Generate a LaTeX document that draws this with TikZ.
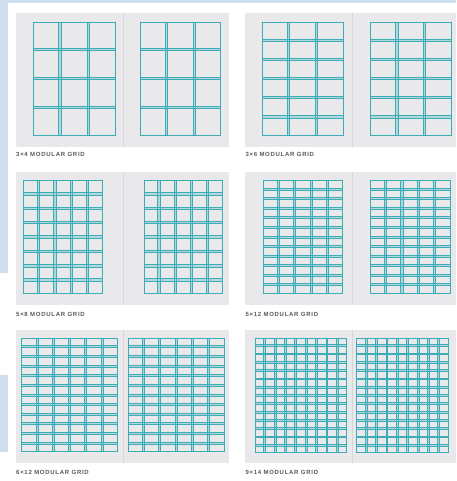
\documentclass[tikz,border=0pt]{standalone}
\usepackage{fontspec}
\newfontfamily\labelfont[LetterSpace=12]{Liberation Sans}
\definecolor{bgblue}{RGB}{207,222,238}
\definecolor{panelgray}{RGB}{233,233,235}
\definecolor{divgray}{RGB}{214,215,218}
\definecolor{gridteal}{RGB}{62,172,180}
\definecolor{gutterteal}{RGB}{176,216,220}
\definecolor{labelgray}{RGB}{88,88,92}
\tikzset{
  panelbox/.style={fill=panelgray},
  pagediv/.style={draw=divgray,line width=0.8pt},
  gridline/.style={draw=gridteal,line width=0.9pt},
  gutterbox/.style={fill=gutterteal},
  gridlabel/.style={anchor=west,inner sep=0pt,text=labelgray,font=\labelfont\bfseries\fontsize{6}{6.5}\selectfont}
}
% x0 y0 x1 y1 ncols nrows gutter
\newcommand\modgrid[7]{%
  \pgfmathsetmacro\cwid{(#3-#1-(#5-1)*#7)/#5}%
  \pgfmathsetmacro\rhgt{(#4-#2-(#6-1)*#7)/#6}%
  \foreach \ci in {1,...,\numexpr#5-1\relax}{%
    \pgfmathsetmacro\xa{#1+\ci*\cwid+(\ci-1)*#7}%
    \fill[gutterbox] (\xa,#2) rectangle ++(#7,#4-#2);
  }%
  \foreach \rj in {1,...,\numexpr#6-1\relax}{%
    \pgfmathsetmacro\ya{#2+\rj*\rhgt+(\rj-1)*#7}%
    \fill[gutterbox] (#1,\ya) rectangle ++(#3-#1,#7);
  }%
  \foreach \ci in {1,...,\numexpr#5-1\relax}{%
    \pgfmathsetmacro\xa{#1+\ci*\cwid+(\ci-1)*#7}%
    \draw[gridline] (\xa,#2) -- (\xa,#4) (\xa+#7,#2) -- (\xa+#7,#4);
  }%
  \foreach \rj in {1,...,\numexpr#6-1\relax}{%
    \pgfmathsetmacro\ya{#2+\rj*\rhgt+(\rj-1)*#7}%
    \draw[gridline] (#1,\ya) -- (#3,\ya) (#1,\ya+#7) -- (#3,\ya+#7);
  }%
  \draw[gridline] (#1,#2) rectangle (#3,#4);
}
% panel: xleft ytop ybottom
\newcommand\spread[3]{%
  \fill[panelbox] (#1,#2) rectangle ++(213,#3-#2);
  \draw[pagediv] (#1+107,#2) -- (#1+107,#3);
}
\begin{document}
\begin{tikzpicture}[x=1pt,y=-1pt]
\path[use as bounding box,clip] (0,0) rectangle (456,481);
\fill[white] (0,0) rectangle (456,481);
% background strips
\fill[bgblue] (0,0) rectangle (456,3.5);
\fill[bgblue] (0,0) rectangle (7.5,273);
\fill[bgblue] (0,375) rectangle (7.5,452);
% row 1
\spread{16}{13}{147}
\spread{245}{13}{147}
\modgrid{33.3}{22}{115}{135}{3}{4}{2.4}
\modgrid{140}{22}{220.7}{135}{3}{4}{2.4}
\modgrid{262}{22.3}{343.7}{135}{3}{6}{2.1}
\modgrid{370.3}{22.3}{451.3}{135}{3}{6}{2.1}
\node[gridlabel] (l1) at (16,154.3) {3×4 MODULAR GRID};
\node[gridlabel] (l2) at (245.3,154.3) {3×6 MODULAR GRID};
% row 2
\spread{16}{172}{305}
\spread{245}{172}{305}
\modgrid{23.3}{180.7}{102.7}{293.3}{5}{8}{2.4}
\modgrid{144}{180.7}{222.7}{293.3}{5}{8}{2.4}
\modgrid{263.3}{180.7}{342.7}{293.3}{5}{12}{2.1}
\modgrid{370.3}{180.7}{450}{293.3}{5}{12}{2.1}
\node[gridlabel] (l3) at (16,314) {5×8 MODULAR GRID};
\node[gridlabel] (l4) at (245.3,314) {5×12 MODULAR GRID};
% row 3
\spread{16}{330}{463}
\spread{245}{330}{463}
\modgrid{21.7}{338.3}{117.3}{451.7}{6}{12}{2}
\modgrid{128.3}{338.3}{224}{451.7}{6}{12}{2}
\modgrid{255.3}{338.3}{346.7}{452.7}{9}{14}{1.8}
\modgrid{356.7}{338.3}{448.3}{452.7}{9}{14}{1.8}
\node[gridlabel] (l5) at (16,472) {6×12 MODULAR GRID};
\node[gridlabel] (l6) at (245.3,472) {9×14 MODULAR GRID};
\end{tikzpicture}
\end{document}
